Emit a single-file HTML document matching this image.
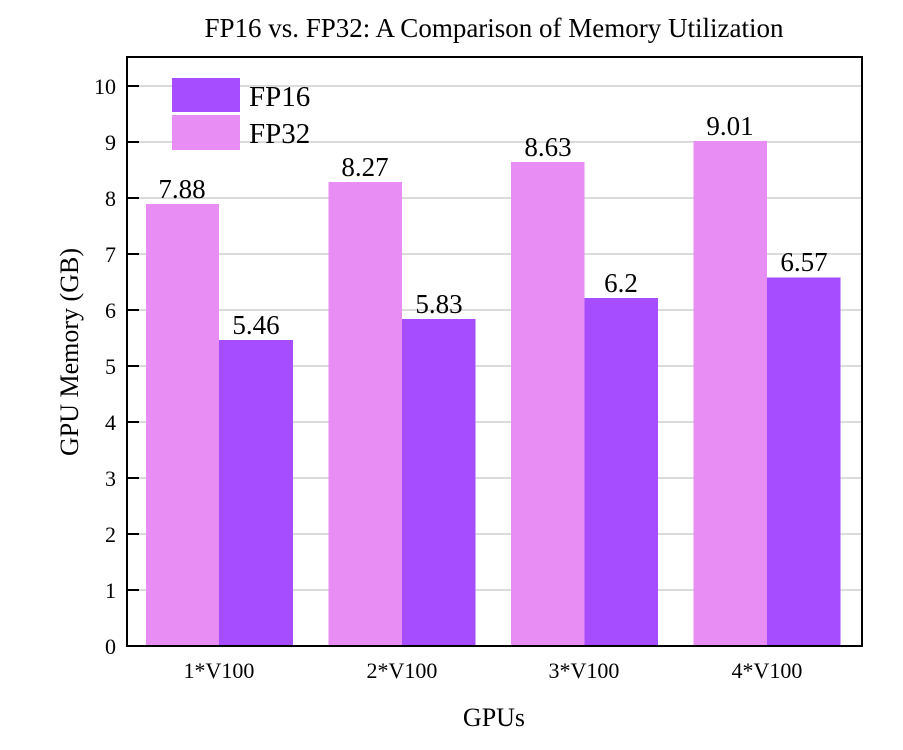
<!DOCTYPE html><html><head><style>body{margin:0;background:#fff}</style></head><body>
<svg width="903" height="745" xmlns="http://www.w3.org/2000/svg" font-family="Liberation Serif, serif">
<rect width="903" height="745" fill="#fff"/>
<text x="494" y="37" font-size="27" text-anchor="middle">FP16 vs. FP32: A Comparison of Memory Utilization</text>
<g stroke="#cfcfcf" stroke-width="1.5">
<line x1="127" x2="862" y1="590" y2="590"/><line x1="127" x2="862" y1="534" y2="534"/><line x1="127" x2="862" y1="478" y2="478"/><line x1="127" x2="862" y1="422" y2="422"/><line x1="127" x2="862" y1="366" y2="366"/><line x1="127" x2="862" y1="310" y2="310"/><line x1="127" x2="862" y1="254" y2="254"/><line x1="127" x2="862" y1="198" y2="198"/><line x1="127" x2="862" y1="142" y2="142"/><line x1="127" x2="862" y1="86" y2="86"/>
</g>
<g fill="#e78df4">
<rect x="146" y="204" width="73" height="442"/><rect x="328.5" y="182" width="73.5" height="464"/><rect x="511" y="162" width="73.5" height="484"/><rect x="693.5" y="141" width="73.5" height="505"/>
</g>
<g fill="#a64dff">
<rect x="219" y="340" width="74" height="306"/><rect x="402" y="319" width="73.5" height="327"/><rect x="584.5" y="298" width="73.5" height="348"/><rect x="767" y="277.5" width="73.5" height="368.5"/>
</g>
<g font-size="27" text-anchor="middle">
<text x="182" y="198">7.88</text><text x="365" y="176">8.27</text><text x="548" y="156">8.63</text><text x="730" y="135">9.01</text>
<text x="256" y="334">5.46</text><text x="439" y="313">5.83</text><text x="621" y="292">6.2</text><text x="804" y="271">6.57</text>
</g>
<rect x="127" y="57" width="735" height="589" fill="none" stroke="#000" stroke-width="2"/>
<g stroke="#000" stroke-width="2">
<line x1="127" x2="139" y1="590" y2="590"/><line x1="127" x2="139" y1="534" y2="534"/><line x1="127" x2="139" y1="478" y2="478"/><line x1="127" x2="139" y1="422" y2="422"/><line x1="127" x2="139" y1="366" y2="366"/><line x1="127" x2="139" y1="310" y2="310"/><line x1="127" x2="139" y1="254" y2="254"/><line x1="127" x2="139" y1="198" y2="198"/><line x1="127" x2="139" y1="142" y2="142"/><line x1="127" x2="139" y1="86" y2="86"/>
</g>
<g font-size="22" text-anchor="end">
<text x="116" y="654">0</text><text x="116" y="598">1</text><text x="116" y="542">2</text><text x="116" y="486">3</text><text x="116" y="430">4</text><text x="116" y="374">5</text><text x="116" y="318">6</text><text x="116" y="262">7</text><text x="116" y="206">8</text><text x="116" y="150">9</text><text x="116" y="94">10</text>
</g>
<g font-size="22" text-anchor="middle">
<text x="219" y="678">1*V100</text><text x="402" y="678">2*V100</text><text x="584" y="678">3*V100</text><text x="767" y="678">4*V100</text>
</g>
<text x="494" y="726" font-size="26" text-anchor="middle">GPUs</text>
<text transform="translate(78,352) rotate(-90)" font-size="26" text-anchor="middle">GPU Memory (GB)</text>
<rect x="172" y="78" width="68" height="34" fill="#a64dff"/>
<rect x="172" y="115" width="68" height="35" fill="#e78df4"/>
<text x="249" y="106" font-size="29">FP16</text>
<text x="249" y="143" font-size="29">FP32</text>
</svg>
</body></html>
